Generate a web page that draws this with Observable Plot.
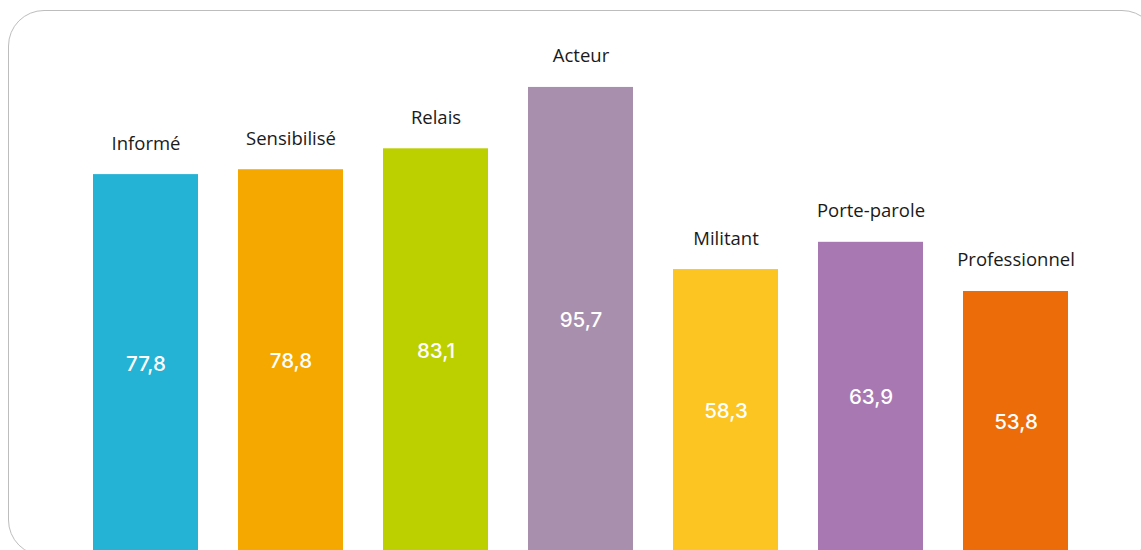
<!DOCTYPE html>
<html>
<head>
<meta charset="utf-8">
<script src="https://cdn.jsdelivr.net/npm/d3@7"></script>
<script src="https://cdn.jsdelivr.net/npm/@observablehq/plot@0.6"></script>
<style>
  html, body { margin: 0; padding: 0; background: #fff; overflow: hidden; width: 1141px; height: 550px; }
  #frame { position: absolute; left: 8px; top: 10px; width: 1150px; height: 546px;
           border: 1.5px solid #bdbdbd; border-radius: 36px; box-sizing: border-box; }
  #chart { position: absolute; left: 0; top: 0; }
</style>
</head>
<body>
<div id="frame"></div>
<div id="chart"></div>
<script>
const categories = ["Informé", "Sensibilisé", "Relais", "Acteur", "Militant", "Porte-parole", "Professionnel"];
const values = [77.8, 78.8, 83.1, 95.7, 58.3, 63.9, 53.8];
const colors = ["#24b2d5", "#f5a800", "#bcd000", "#a98fae", "#fcc522", "#a878b2", "#ec6c0a"];

const data = categories.map((c, i) => ({category: c, value: values[i], color: colors[i], label: values[i].toFixed(1).replace(".", ",")}));

const chart = Plot.plot({
  width: 1141,
  height: 560,
  marginLeft: 72,
  marginRight: 52,
  marginTop: 66,
  marginBottom: 7,
  x: {domain: categories, paddingInner: 0.276, paddingOuter: 0.138, axis: null},
  y: {domain: [0, 100], axis: null},
  style: {background: "transparent", overflow: "visible"},
  marks: [
    Plot.barY(data, {x: "category", y: "value", fill: "color"}),
    Plot.text(data, {x: "category", y: "value", text: "category", dy: -31, lineAnchor: "middle",
      fill: "#1a1a1a", fontSize: 18.5, fontFamily: "Open Sans"}),
    Plot.text(data, {x: "category", y: d => d.value / 2, text: "label", lineAnchor: "middle",
      fill: "#ffffff", fontSize: 20.5, fontWeight: 500, fontFamily: "Inter"})
  ]
});
document.getElementById("chart").appendChild(chart);
</script>
</body>
</html>
